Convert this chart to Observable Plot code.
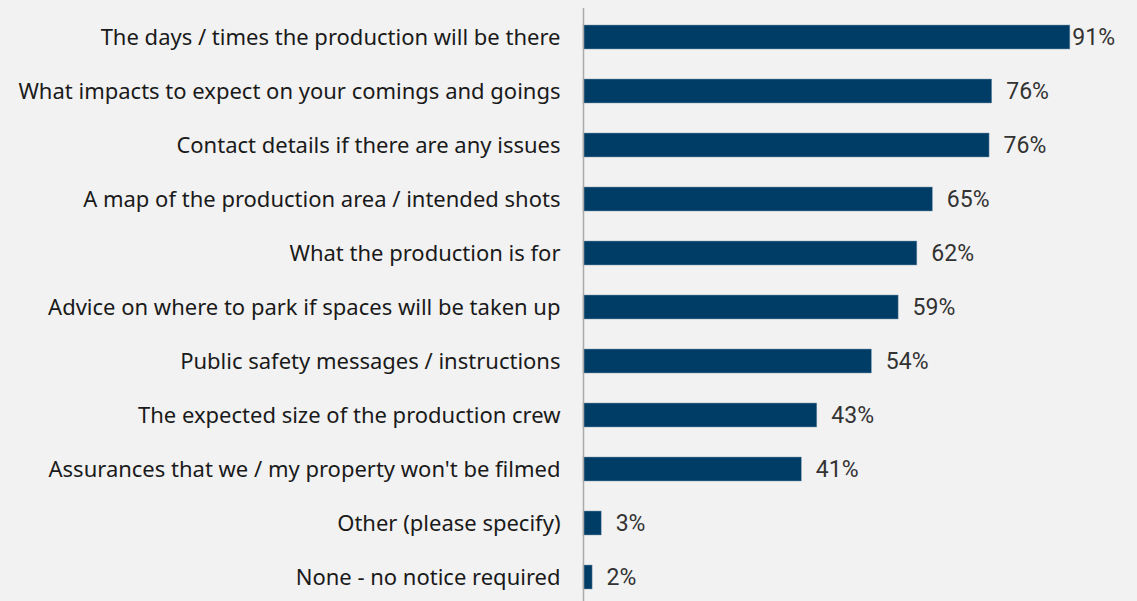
<!DOCTYPE html>
<html>
<head>
<meta charset="utf-8">
<script src="https://cdn.jsdelivr.net/npm/d3@7"></script>
<script src="https://cdn.jsdelivr.net/npm/@observablehq/plot@0.6"></script>
<style>
  html, body { margin: 0; padding: 0; background: #f2f2f2; }
  #chart svg { display: block; }
</style>
</head>
<body>
<div id="chart"></div>
<script>
const categories = [
  "The days / times the production will be there",
  "What impacts to expect on your comings and goings",
  "Contact details if there are any issues",
  "A map of the production area / intended shots",
  "What the production is for",
  "Advice on where to park if spaces will be taken up",
  "Public safety messages / instructions",
  "The expected size of the production crew",
  "Assurances that we / my property won't be filmed",
  "Other (please specify)",
  "None - no notice required"
];
const values = [91.0, 76.4, 75.9, 65.3, 62.4, 58.9, 53.9, 43.7, 40.8, 3.4, 1.7];
const labels = ["91%", "76%", "76%", "65%", "62%", "59%", "54%", "43%", "41%", "3%", "2%"];

const data = categories.map((c, i) => ({category: c, value: values[i], label: labels[i]}));
const maxValue = d3.max(values);

const chart = Plot.plot({
  width: 1137,
  height: 601,
  marginLeft: 583,
  marginRight: 0,
  marginTop: 8,
  marginBottom: 0,
  style: {background: "#f2f2f2", fontFamily: "Noto Sans", fontSize: "22px", color: "#1a1a1a"},
  x: {domain: [0, 103.55], axis: null},
  y: {domain: categories, range: [8, 605], paddingInner: 0.56, paddingOuter: 0.28, label: null},
  marks: [
    Plot.axisY({tickSize: 0, tickPadding: 23, fontSize: 22, fill: "#1a1a1a", fontFamily: "Noto Sans"}),
    Plot.barX(data, {x: "value", y: "category", fill: "#003d66", stroke: "#7f9bb3", strokeWidth: 0.5}),
    Plot.ruleX([0], {stroke: "#aaaaaa", strokeWidth: 1.5}),
    Plot.text(data.filter(d => d.value < maxValue), {x: "value", y: "category", text: "label",
      textAnchor: "start", dx: 14, fill: "#333333", fontSize: 23, fontFamily: "Roboto"}),
    Plot.text(data.filter(d => d.value === maxValue), {x: "value", y: "category", text: "label",
      textAnchor: "start", dx: 2, fill: "#333333", fontSize: 23, fontFamily: "Roboto"})
  ]
});
document.getElementById("chart").appendChild(chart);
</script>
</body>
</html>
